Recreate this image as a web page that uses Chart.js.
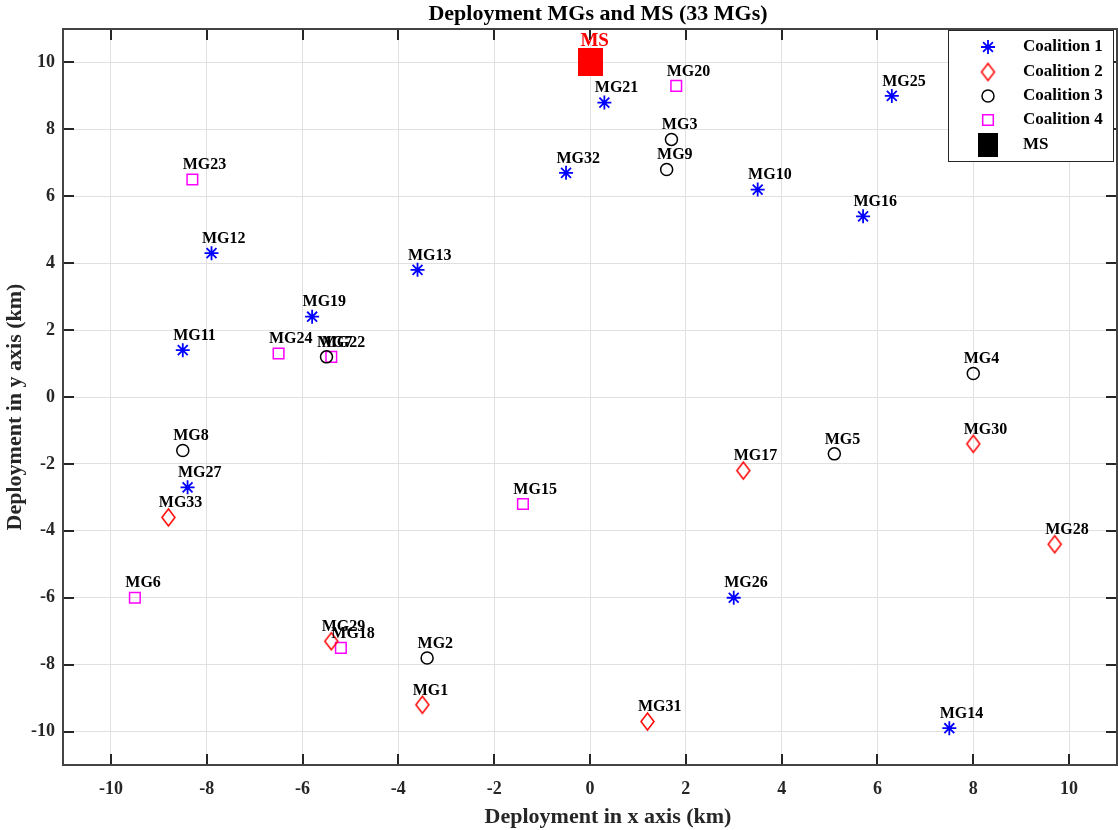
<!DOCTYPE html>
<html>
<head>
<meta charset="utf-8">
<title>Deployment MGs and MS</title>
<script src="https://cdn.jsdelivr.net/npm/chart.js"></script>
<style>
  html, body { margin: 0; padding: 0; background: #fff; }
</style>
</head>
<body>
<canvas id="chart" width="1118" height="830"></canvas>
<script>
// tick labels
const xTicks = [-10, -8, -6, -4, -2, 0, 2, 4, 6, 8, 10];
const yTicks = [-10, -8, -6, -4, -2, 0, 2, 4, 6, 8, 10];

// Coalition 1
const c1Names = ['MG10', 'MG11', 'MG12', 'MG13', 'MG14', 'MG16', 'MG19', 'MG21', 'MG25', 'MG26', 'MG27', 'MG32'];
const c1X = [3.5, -8.5, -7.9, -3.6, 7.5, 5.7, -5.8, 0.3, 6.3, 3.0, -8.4, -0.5];
const c1Y = [6.2, 1.4, 4.3, 3.8, -9.9, 5.4, 2.4, 8.8, 9.0, -6.0, -2.7, 6.7];

// Coalition 2
const c2Names = ['MG1', 'MG17', 'MG28', 'MG29', 'MG30', 'MG31', 'MG33'];
const c2X = [-3.5, 3.2, 9.7, -5.4, 8.0, 1.2, -8.8];
const c2Y = [-9.2, -2.2, -4.4, -7.3, -1.4, -9.7, -3.6];

// Coalition 3
const c3Names = ['MG2', 'MG3', 'MG4', 'MG5', 'MG7', 'MG8', 'MG9'];
const c3X = [-3.4, 1.7, 8.0, 5.1, -5.5, -8.5, 1.6];
const c3Y = [-7.8, 7.7, 0.7, -1.7, 1.2, -1.6, 6.8];

// Coalition 4
const c4Names = ['MG6', 'MG15', 'MG18', 'MG20', 'MG22', 'MG23', 'MG24'];
const c4X = [-9.5, -1.4, -5.2, 1.8, -5.4, -8.3, -6.5];
const c4Y = [-6.0, -3.2, -7.5, 9.3, 1.2, 6.5, 1.3];

// main station
const msNames = ['MS'];
const msX = [0];
const msY = [10];

const seriesLabels = ['Coalition 1', 'Coalition 2', 'Coalition 3', 'Coalition 4', 'MS'];

const FONT = 'Liberation Serif, Times New Roman, serif';

function pts(xs, ys) {
  return xs.map((x, i) => ({ x: x, y: ys[i] }));
}

// marker images for the shapes chart.js does not have
function diamondImg(w, h, color) {
  const c = document.createElement('canvas');
  c.width = w + 4; c.height = h + 4;
  const g = c.getContext('2d');
  g.strokeStyle = color; g.lineWidth = 1.5;
  g.beginPath();
  g.moveTo(c.width / 2, 2);
  g.lineTo(c.width - 2, c.height / 2);
  g.lineTo(c.width / 2, c.height - 2);
  g.lineTo(2, c.height / 2);
  g.closePath();
  g.stroke();
  return c;
}
function boxImg(w, h, color) {
  const c = document.createElement('canvas');
  c.width = w; c.height = h;
  const g = c.getContext('2d');
  g.fillStyle = color;
  g.fillRect(0, 0, w, h);
  return c;
}
const diamond = diamondImg(13, 17, '#ff0000');
const msBox = boxImg(25, 28, '#ff0000');

const labelPlugin = {
  id: 'pointLabels',
  afterDatasetsDraw(chart) {
    const ctx = chart.ctx;
    const xs = chart.scales.x, ys = chart.scales.y;
    ctx.save();
    ctx.textAlign = 'left';
    ctx.textBaseline = 'middle';
    chart.data.datasets.forEach(ds => {
      const isMs = ds.label === 'MS';
      ctx.font = isMs ? 'bold 19px ' + FONT : 'bold 16px ' + FONT;
      ctx.fillStyle = isMs ? '#ff0000' : '#000';
      ds.data.forEach((p, i) => {
        const px = xs.getPixelForValue(p.x - 0.2);
        const py = ys.getPixelForValue(p.y + (isMs ? 0.65 : 0.43));
        ctx.fillText(ds.names[i], px, py);
      });
    });
    ctx.restore();
  }
};

const framePlugin = {
  id: 'frame',
  beforeDatasetsDraw(chart) {
    const ctx = chart.ctx;
    const a = chart.chartArea;
    const xs = chart.scales.x, ys = chart.scales.y;
    const tl = 11;
    ctx.save();
    ctx.strokeStyle = '#262626';
    ctx.lineWidth = 2;
    ctx.beginPath();
    xTicks.forEach(v => {
      const px = Math.round(xs.getPixelForValue(v));
      ctx.moveTo(px, a.bottom); ctx.lineTo(px, a.bottom - tl);
      ctx.moveTo(px, a.top); ctx.lineTo(px, a.top + tl);
    });
    yTicks.forEach(v => {
      const py = Math.round(ys.getPixelForValue(v));
      ctx.moveTo(a.left, py); ctx.lineTo(a.left + tl, py);
      ctx.moveTo(a.right, py); ctx.lineTo(a.right - tl, py);
    });
    ctx.stroke();
    ctx.strokeStyle = '#444';
    ctx.lineWidth = 2;
    ctx.strokeRect(a.left, a.top, a.right - a.left, a.bottom - a.top);
    ctx.restore();
  },
  afterDraw(chart) {
    const ctx = chart.ctx;
    ctx.save();
    // title and axis titles
    ctx.fillStyle = '#000';
    ctx.textAlign = 'center';
    ctx.textBaseline = 'middle';
    ctx.font = 'bold 22px ' + FONT;
    ctx.fillText('Deployment MGs and MS (33 MGs)', 598, 14);
    ctx.fillStyle = '#262626';
    ctx.font = 'bold 22px ' + FONT;
    ctx.fillText('Deployment in x axis (km)', 608, 817);
    ctx.save();
    ctx.translate(15, 407);
    ctx.rotate(-Math.PI / 2);
    ctx.fillText('Deployment in y axis (km)', 0, 0);
    ctx.restore();

    // legend
    const lx = 948, ly = 30, lw = 165, lh = 131;
    ctx.fillStyle = '#fff';
    ctx.fillRect(lx, ly, lw, lh);
    ctx.strokeStyle = '#262626';
    ctx.lineWidth = 1;
    ctx.strokeRect(lx + 0.5, ly + 0.5, lw, lh);
    const rows = [47, 72, 96, 120, 145];
    const mx = 988;
    chart.data.datasets.forEach((ds, i) => {
      const y = rows[i];
      if (i === 4) {
        ctx.fillStyle = '#000';
        ctx.fillRect(mx - 10, y - 12, 20, 24);
      } else if (i === 1) {
        ctx.drawImage(diamond, mx - diamond.width / 2, y - diamond.height / 2);
      } else {
        ctx.fillStyle = 'rgba(0,0,0,0)';
        ctx.strokeStyle = ds.pointBorderColor;
        ctx.lineWidth = ds.pointBorderWidth;
        Chart.helpers.drawPoint(ctx, {
          pointStyle: ds.pointStyle,
          radius: ds.pointRadius,
          borderWidth: ds.pointBorderWidth,
          rotation: 0
        }, mx, y);
      }
      ctx.fillStyle = '#000';
      ctx.font = 'bold 17px ' + FONT;
      ctx.textAlign = 'left';
      ctx.textBaseline = 'middle';
      ctx.fillText(seriesLabels[i], 1023, y);
    });
    ctx.restore();
  }
};

const tickFont = { family: FONT, size: 18, weight: 'bold' };

new Chart(document.getElementById('chart'), {
  type: 'scatter',
  data: {
    datasets: [
      {
        label: seriesLabels[0], names: c1Names, data: pts(c1X, c1Y),
        pointStyle: 'star', pointRadius: 7, pointBorderWidth: 1.8,
        pointBorderColor: '#0000ff', pointBackgroundColor: '#0000ff'
      },
      {
        label: seriesLabels[1], names: c2Names, data: pts(c2X, c2Y),
        pointStyle: diamond, pointRadius: 8, pointBorderWidth: 1.5,
        pointBorderColor: '#ff0000', pointBackgroundColor: 'rgba(0,0,0,0)'
      },
      {
        label: seriesLabels[2], names: c3Names, data: pts(c3X, c3Y),
        pointStyle: 'circle', pointRadius: 6, pointBorderWidth: 1.5,
        pointBorderColor: '#000000', pointBackgroundColor: 'rgba(0,0,0,0)'
      },
      {
        label: seriesLabels[3], names: c4Names, data: pts(c4X, c4Y),
        pointStyle: 'rect', pointRadius: 7.5, pointBorderWidth: 1.5,
        pointBorderColor: '#ff00ff', pointBackgroundColor: 'rgba(0,0,0,0)'
      },
      {
        label: seriesLabels[4], names: msNames, data: pts(msX, msY),
        pointStyle: msBox, pointRadius: 14, pointBorderWidth: 0,
        pointBorderColor: '#ff0000', pointBackgroundColor: '#ff0000'
      }
    ]
  },
  options: {
    responsive: false,
    animation: false,
    devicePixelRatio: 1,
    layout: { autoPadding: false, padding: { top: 29, right: 1, left: 0, bottom: 0 } },
    plugins: {
      legend: { display: false },
      tooltip: { enabled: false },
      title: { display: false }
    },
    scales: {
      x: {
        type: 'linear', min: -11, max: 11,
        afterBuildTicks: s => { s.ticks = xTicks.map(v => ({ value: v })); },
        afterFit: s => { s.height = 65; },
        grid: { color: '#e0e0e0', lineWidth: 1, drawTicks: true, tickLength: 14, tickColor: 'rgba(0,0,0,0)' },
        border: { display: false },
        ticks: { padding: 0, font: tickFont, color: '#262626', maxRotation: 0, autoSkip: false }
      },
      y: {
        type: 'linear', min: -11, max: 11,
        afterBuildTicks: s => { s.ticks = yTicks.map(v => ({ value: v })); },
        afterFit: s => { s.width = 63; },
        grid: { color: '#e0e0e0', lineWidth: 1, drawTicks: true, tickLength: 8, tickColor: 'rgba(0,0,0,0)' },
        border: { display: false },
        ticks: { padding: 0, font: tickFont, color: '#262626', autoSkip: false }
      }
    }
  },
  plugins: [framePlugin, labelPlugin]
});
</script>
</body>
</html>
